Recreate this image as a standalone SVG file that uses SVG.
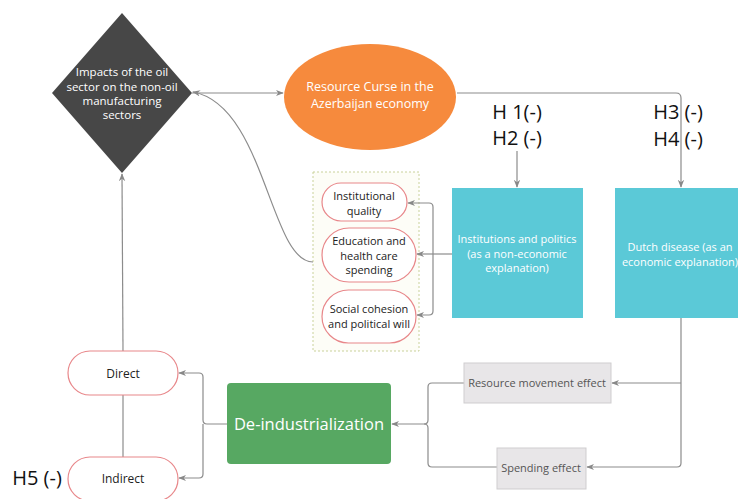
<svg xmlns="http://www.w3.org/2000/svg" width="738" height="499" viewBox="0 0 738 499">
<defs>
<marker id="ah" viewBox="0 0 10 10" refX="9" refY="5" markerWidth="8" markerHeight="8" orient="auto-start-reverse" markerUnits="userSpaceOnUse">
<path d="M0,1 L10,5 L0,9 L3,5 z" fill="#888"/>
</marker>
<style>
text{font-family:"Open Sans","Noto Sans","Liberation Sans",sans-serif;text-anchor:middle}
.c{fill:none;stroke:#8c8c8c;stroke-width:1.2}
.w{fill:#fff;font-size:11px}
.pill{fill:#fff;stroke:#e8878a;stroke-width:1.2}
.pt{fill:#222;font-size:11px}
.gb{fill:#e8e6e8;stroke:#cfcdcf;stroke-width:1}
.gt{fill:#555;font-size:11px}
.h{fill:#111;font-size:20px}
.teal{fill:#5bc9d7}
</style>
</defs>
<rect width="738" height="499" fill="#fff"/>

<g id="group-box">
<rect x="313" y="172" width="106" height="179" fill="#fdfdf7" stroke="#c9d19a" stroke-width="1" stroke-dasharray="2,2"/>
</g>

<g id="connectors">
<path class="c" d="M192,93 L283,93" marker-end="url(#ah)"/>
<path class="c" d="M457,93 L676,93 Q681,93 681,98 L681,187" marker-end="url(#ah)"/>
<path class="c" d="M517,151 L517,187" marker-end="url(#ah)"/>
<path class="c" d="M313,262 C270,262 265,105 193,92" marker-end="url(#ah)"/>
<path class="c" d="M452,254 L433,254"/>
<path class="c" d="M433,254 L433,207 Q433,203 429,203 L408,203" marker-end="url(#ah)"/>
<path class="c" d="M433,254 L417,254" marker-end="url(#ah)"/>
<path class="c" d="M433,254 L433,311 Q433,315 429,315 L417,315" marker-end="url(#ah)"/>
<path class="c" d="M681,318 L681,463 Q681,467 677,467 L587,467" marker-end="url(#ah)"/>
<path class="c" d="M681,383 L612,383" marker-end="url(#ah)"/>
<path class="c" d="M464,383 L432,383 Q428,383 428,387 L428,420 Q428,424 424,424 L392,424" marker-end="url(#ah)"/>
<path class="c" d="M497,467 L432,467 Q428,467 428,463 L428,428 Q428,424 424,424"/>
<path class="c" d="M227,424 L207,424 Q203,424 203,420 L203,377 Q203,373 199,373 L179,373" marker-end="url(#ah)"/>
<path class="c" d="M203,424 L203,474 Q203,478 199,478 L179,478" marker-end="url(#ah)"/>
<path class="c" d="M123,457 L123,395"/>
<path class="c" d="M123,351 L122,174" marker-end="url(#ah)"/>
</g>

<g id="impacts">
<polygon points="122,13 192,93 122,173 52,93" fill="#474747"/>
<text class="w" x="122" y="76" style="font-size:11.5px">Impacts of the oil</text>
<text class="w" x="122" y="91" style="font-size:11.5px">sector on the non-oil</text>
<text class="w" x="122" y="105" style="font-size:11.5px">manufacturing</text>
<text class="w" x="122" y="119" style="font-size:11.5px">sectors</text>
</g>

<g id="resource-curse">
<ellipse cx="370" cy="97" rx="86" ry="53" fill="#f68a3d"/>
<text class="w" x="370" y="91" style="font-size:12.5px">Resource Curse in the</text>
<text class="w" x="370" y="108" style="font-size:12.5px">Azerbaijan economy</text>
</g>

<g id="h12">
<text class="h" x="517" y="119">H 1(-)</text>
<text class="h" x="517" y="145">H2 (-)</text>
</g>

<g id="h34">
<text class="h" x="678" y="119">H3 (-)</text>
<text class="h" x="678" y="146">H4 (-)</text>
</g>

<g id="institutions">
<rect class="teal" x="452" y="188" width="131" height="130"/>
<text class="w" x="517" y="243">Institutions and politics</text>
<text class="w" x="517" y="258">(as a non-economic</text>
<text class="w" x="517" y="272">explanation)</text>
</g>

<g id="dutch">
<rect class="teal" x="615" y="188" width="130" height="130"/>
<text class="w" x="680" y="251">Dutch disease (as an</text>
<text class="w" x="680" y="266">economic explanation)</text>
</g>

<g id="inst-quality">
<rect class="pill" x="322" y="183" width="85" height="38" rx="19"/>
<text class="pt" x="364" y="200">Institutional</text>
<text class="pt" x="364" y="215">quality</text>
</g>

<g id="education">
<rect class="pill" x="322" y="228" width="94" height="54" rx="27"/>
<text class="pt" x="369" y="245">Education and</text>
<text class="pt" x="369" y="260">health care</text>
<text class="pt" x="369" y="274">spending</text>
</g>

<g id="social">
<rect class="pill" x="322" y="290" width="94" height="53" rx="26.5"/>
<text class="pt" x="369" y="313">Social cohesion</text>
<text class="pt" x="369" y="328">and political will</text>
</g>

<g id="resource-movement">
<rect class="gb" x="464" y="363" width="147" height="40"/>
<text class="gt" x="537" y="387">Resource movement effect</text>
</g>

<g id="spending">
<rect class="gb" x="497" y="448" width="89" height="41"/>
<text class="gt" x="541" y="472">Spending effect</text>
</g>

<g id="deindustrialization">
<rect x="227" y="383" width="164" height="81" rx="4" fill="#57a862"/>
<text x="309" y="430" fill="#fff" style="font-size:16.5px">De-industrialization</text>
</g>

<g id="direct">
<rect class="pill" x="68" y="351" width="110" height="44" rx="22"/>
<text class="pt" x="123" y="378" style="font-size:12px">Direct</text>
</g>

<g id="indirect">
<rect class="pill" x="68" y="457" width="110" height="44" rx="22"/>
<text class="pt" x="123" y="483" style="font-size:12px">Indirect</text>
</g>

<g id="h5">
<text class="h" x="37" y="485">H5 (-)</text>
</g>
</svg>
